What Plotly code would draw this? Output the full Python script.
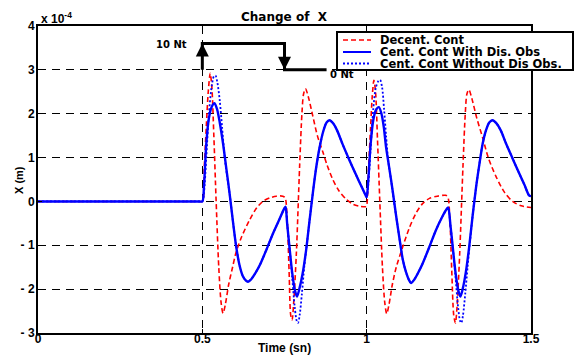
import plotly.graph_objects as go

# ---- response data (displacement in units of 1e-4 m) ----
t_dec = [0, 0.25, 0.45, 0.49, 0.5, 0.506, 0.512, 0.518, 0.524, 0.529, 0.535, 0.542, 0.550,
         0.557, 0.563, 0.570, 0.580, 0.592, 0.603, 0.620, 0.644, 0.665, 0.684, 0.705, 0.725,
         0.745, 0.752, 0.758, 0.764, 0.769, 0.773, 0.778, 0.786, 0.796, 0.803, 0.808, 0.814,
         0.822, 0.836, 0.850, 0.867, 0.880, 0.897, 0.915, 0.938, 0.960, 0.978, 0.998,
         1.0, 1.006, 1.012, 1.017, 1.022, 1.027, 1.033, 1.040, 1.048, 1.055, 1.061,
         1.068, 1.078, 1.090, 1.110, 1.130, 1.150, 1.170, 1.191, 1.215, 1.240, 1.247,
         1.253, 1.259, 1.265, 1.270, 1.275, 1.283, 1.293, 1.300, 1.305, 1.311, 1.320,
         1.335, 1.353, 1.370, 1.394, 1.420, 1.444, 1.470, 1.5]
x_dec = [0, 0, 0, 0, 0, 0.8, 1.7, 2.5, 2.92, 2.6, 1.5, 0.0, -1.5,
         -2.3, -2.55, -2.35, -1.9, -1.5, -1.15, -0.8, -0.42, -0.15, 0.0, 0.08, 0.12,
         0.12, 0.08, -0.4, -1.6, -2.6, -2.7, -2.3, -1.2, 0.8, 2.0, 2.45, 2.57,
         2.4, 1.95, 1.5, 1.12, 0.82, 0.5, 0.25, 0.05, -0.07, -0.11, -0.12,
         -0.1, 0.8, 1.7, 2.4, 2.76, 2.5, 1.4, 0.0, -1.5, -2.3, -2.56,
         -2.35, -1.9, -1.5, -1.03, -0.6, -0.27, -0.05, 0.07, 0.12, 0.14, 0.1,
         -0.4, -1.6, -2.6, -2.77, -2.4, -1.2, 0.8, 2.0, 2.45, 2.55, 2.35,
         1.9, 1.45, 1.0, 0.56, 0.2, 0.0, -0.1, -0.14]

t_obs = [0, 0.25, 0.45, 0.49, 0.5, 0.505, 0.512, 0.520, 0.528, 0.537, 0.545, 0.553, 0.563,
         0.573, 0.583, 0.593, 0.603, 0.613, 0.623, 0.632, 0.639, 0.648, 0.660, 0.675, 0.695,
         0.715, 0.735, 0.748, 0.753, 0.758, 0.765, 0.773, 0.781, 0.788, 0.795, 0.805, 0.816,
         0.826, 0.836, 0.846, 0.857, 0.868, 0.878, 0.887, 0.898, 0.910, 0.927, 0.947,
         0.968, 0.985, 0.998, 1.0, 1.005, 1.012, 1.020, 1.028, 1.037, 1.045, 1.052,
         1.059, 1.068, 1.079, 1.090, 1.100, 1.110, 1.120, 1.128, 1.135, 1.145, 1.157,
         1.170, 1.190, 1.211, 1.230, 1.243, 1.248, 1.255, 1.262, 1.270, 1.278, 1.285,
         1.292, 1.302, 1.312, 1.322, 1.333, 1.343, 1.353, 1.363, 1.373, 1.383, 1.395,
         1.408, 1.424, 1.444, 1.464, 1.480, 1.494, 1.5]
x_obs = [0, 0, 0, 0, 0, 0.35, 1.32, 1.9, 2.15, 2.24, 2.1, 1.8, 1.32,
         0.75, 0.18, -0.45, -1.03, -1.45, -1.7, -1.8, -1.83, -1.78, -1.65, -1.45, -1.1,
         -0.73, -0.4, -0.18, -0.12, -0.5, -1.03, -1.6, -2.0, -2.17, -2.0, -1.65, -1.1,
         -0.45, 0.18, 0.75, 1.24, 1.6, 1.8, 1.85, 1.78, 1.62, 1.3, 0.95,
         0.6, 0.33, 0.12, 0.1, 0.5, 1.3, 1.85, 2.08, 2.15, 2.0, 1.7,
         1.24, 0.8, 0.25, -0.35, -0.85, -1.33, -1.62, -1.78, -1.86, -1.78, -1.62,
         -1.42, -1.05, -0.65, -0.35, -0.18, -0.14, -0.55, -1.05, -1.6, -2.0, -2.17,
         -2.0, -1.6, -1.03, -0.35, 0.33, 0.85, 1.32, 1.62, 1.8, 1.85, 1.78,
         1.62, 1.32, 0.98, 0.64, 0.38, 0.14, 0.12]

t_noobs = [0, 0.25, 0.45, 0.49, 0.5, 0.505, 0.512, 0.520, 0.528, 0.535, 0.540, 0.546, 0.553,
           0.560, 0.568, 0.575, 0.583, 0.593, 0.603, 0.613, 0.623, 0.632, 0.639, 0.648, 0.660,
           0.675, 0.695, 0.715, 0.735, 0.748, 0.753, 0.758, 0.765, 0.773, 0.781, 0.787, 0.791,
           0.796, 0.803, 0.810, 0.816, 0.826, 0.836, 0.846, 0.857, 0.868, 0.878, 0.887,
           0.898, 0.910, 0.927, 0.947, 0.968, 0.985, 0.998, 1.0, 1.005, 1.012, 1.020,
           1.028, 1.036, 1.041, 1.047, 1.053, 1.059, 1.066, 1.075, 1.083, 1.090, 1.100,
           1.110, 1.120, 1.128, 1.135, 1.145, 1.157, 1.170, 1.190, 1.211, 1.230, 1.243,
           1.248, 1.255, 1.262, 1.270, 1.278, 1.284, 1.288, 1.293, 1.300, 1.307, 1.312,
           1.322, 1.333, 1.343, 1.353, 1.363, 1.373, 1.383, 1.395, 1.408, 1.424, 1.444,
           1.464, 1.480, 1.494, 1.5]
x_noobs = [0, 0, 0, 0, 0, 0.2, 1.0, 2.0, 2.6, 2.85, 2.87, 2.7, 2.3,
           1.7, 1.0, 0.6, 0.18, -0.45, -1.03, -1.45, -1.7, -1.8, -1.83, -1.78, -1.65,
           -1.45, -1.1, -0.73, -0.4, -0.18, -0.12, -0.5, -1.03, -1.7, -2.4, -2.72, -2.77,
           -2.6, -2.1, -1.5, -1.1, -0.45, 0.18, 0.75, 1.24, 1.6, 1.8, 1.85,
           1.78, 1.62, 1.3, 0.95, 0.6, 0.33, 0.12, 0.1, 0.4, 1.2, 2.1,
           2.6, 2.75, 2.77, 2.6, 2.1, 1.5, 0.9, 0.45, 0.0, -0.35, -0.85,
           -1.33, -1.62, -1.78, -1.86, -1.78, -1.62, -1.42, -1.05, -0.65, -0.35, -0.18,
           -0.14, -0.55, -1.05, -1.7, -2.4, -2.72, -2.77, -2.6, -2.1, -1.5, -1.1,
           -0.35, 0.33, 0.85, 1.32, 1.62, 1.8, 1.85, 1.78, 1.62, 1.32, 0.98,
           0.64, 0.38, 0.14, 0.12]

series_names = ["Decent. Cont", "Cent. Cont With Dis. Obs", "Cent. Cont Without Dis Obs."]

# ---- applied force pulse sketch (10 Nt on, then 0 Nt) ----
force_t = [0.5, 0.5, 0.75, 0.75, 0.878]
force_level = [3.0, 3.6, 3.6, 3.0, 3.0]
force_labels = ["10 Nt", "0 Nt"]

x_ticks = [0, 0.5, 1, 1.5]
x_tick_text = ["0", "0.5", "1", "1.5"]
y_ticks = [-3, -2, -1, 0, 1, 2, 3, 4]
y_tick_text = ["- 3", "- 2", "- 1", "0", "1", "2", "3", "4"]

FONT = "Liberation Sans, Arial, sans-serif"
WIDE = "DejaVu Sans, Verdana, sans-serif"

W, H = 578, 358
M_L, M_R, M_T, M_B = 38, 47, 26, 25
PW, PH = W - M_L - M_R, H - M_T - M_B


def px_x(px):
    """pixel column -> paper x"""
    return (px - M_L) / PW


def px_y(py):
    """pixel row -> paper y"""
    return (H - M_B - py) / PH


styles = [
    dict(color="#ff0000", width=1.6, dash="5px,3px"),
    dict(color="#0000ff", width=2.4),
    dict(color="#0000ff", width=1.8, dash="2px,2px"),
]

fig = go.Figure()
for (tt, xx), name, st in zip([(t_dec, x_dec), (t_obs, x_obs), (t_noobs, x_noobs)],
                              series_names, styles):
    fig.add_trace(go.Scatter(x=tt, y=xx, mode="lines", name=name, showlegend=False,
                             line=dict(shape="spline", smoothing=0.8, **st)))

# force pulse outline with its on/off arrow heads
fig.add_trace(go.Scatter(x=force_t, y=force_level, mode="lines", showlegend=False,
                         line=dict(color="black", width=3), hoverinfo="skip"))
fig.add_trace(go.Scatter(x=[force_t[1], force_t[3]], y=[force_level[1], force_level[3]],
                         mode="markers", showlegend=False, hoverinfo="skip",
                         marker=dict(symbol=["arrow-up", "arrow-down"], size=13,
                                     color="black", line=dict(width=0))))

fig.add_annotation(x=force_t[0], y=force_level[1], text=force_labels[0], showarrow=False,
                   xref="x", yref="y", xanchor="right", xshift=-13, yshift=-1,
                   font=dict(family=WIDE, size=10, color="black", weight="bold"))
fig.add_annotation(x=force_t[4], y=force_level[4], text=force_labels[1], showarrow=False,
                   xref="x", yref="y", xanchor="left", yanchor="middle", xshift=1, yshift=-5,
                   font=dict(family=WIDE, size=10, color="black", weight="bold"))

# exponent label above the y axis
fig.add_annotation(x=0, y=1, xref="paper", yref="paper", xanchor="left", yanchor="bottom",
                   text="x 10<sup>-4</sup>", showarrow=False, xshift=1, yshift=-2,
                   font=dict(family=FONT, size=12, color="black", weight="bold"))

# axis titles
fig.add_annotation(x=px_x(284), y=px_y(348), xref="paper", yref="paper",
                   xanchor="center", yanchor="middle", text="Time (sn)", showarrow=False,
                   font=dict(family=FONT, size=12, color="black", weight="bold"))
fig.add_annotation(x=px_x(19), y=px_y(180), xref="paper", yref="paper",
                   xanchor="center", yanchor="middle", text="X (m)", showarrow=False,
                   textangle=-90,
                   font=dict(family=FONT, size=11, color="black", weight="bold"))

# boxed legend
fig.add_shape(type="rect", xref="paper", yref="paper",
              x0=px_x(337), x1=px_x(573), y0=px_y(70), y1=px_y(32),
              fillcolor="white", line=dict(color="black", width=2), layer="above")
row_y = [40, 52, 63.5]
for name, st, ry in zip(series_names, styles, row_y):
    fig.add_shape(type="line", xref="paper", yref="paper",
                  x0=px_x(343), x1=px_x(371), y0=px_y(ry), y1=px_y(ry),
                  line=dict(color=st["color"], width=min(st["width"], 2),
                            dash=st.get("dash", "solid")), layer="above")
    fig.add_annotation(x=px_x(378), y=px_y(ry), xref="paper", yref="paper",
                       xanchor="left", yanchor="middle", text=name, showarrow=False,
                       height=12, valign="middle",
                       font=dict(family=WIDE, size=11.5, color="black", weight="bold"))

axis_common = dict(showline=True, linecolor="black", linewidth=2, mirror=True,
                   showgrid=True, gridcolor="black", gridwidth=1, griddash="8px,6px",
                   zeroline=False, ticks="inside", ticklen=4, tickcolor="black",
                   automargin=False,
                   tickfont=dict(family=FONT, size=12, color="black", weight="bold"))

fig.update_layout(
    width=W, height=H,
    margin=dict(l=M_L, r=M_R, t=M_T, b=M_B),
    paper_bgcolor="white", plot_bgcolor="white",
    title=dict(text="Change of  X", x=(284 / W), xanchor="center", y=1 - 17 / H,
               yanchor="middle",
               font=dict(family=WIDE, size=12, color="black", weight="bold")),
    xaxis=dict(range=[0, 1.5], tickvals=x_ticks, ticktext=x_tick_text,
               ticklabelstandoff=-6, **axis_common),
    yaxis=dict(range=[-3, 4], tickvals=y_ticks, ticktext=y_tick_text,
               ticklabelstandoff=-1, **axis_common),
    showlegend=False,
)

fig.write_html("out.html")
